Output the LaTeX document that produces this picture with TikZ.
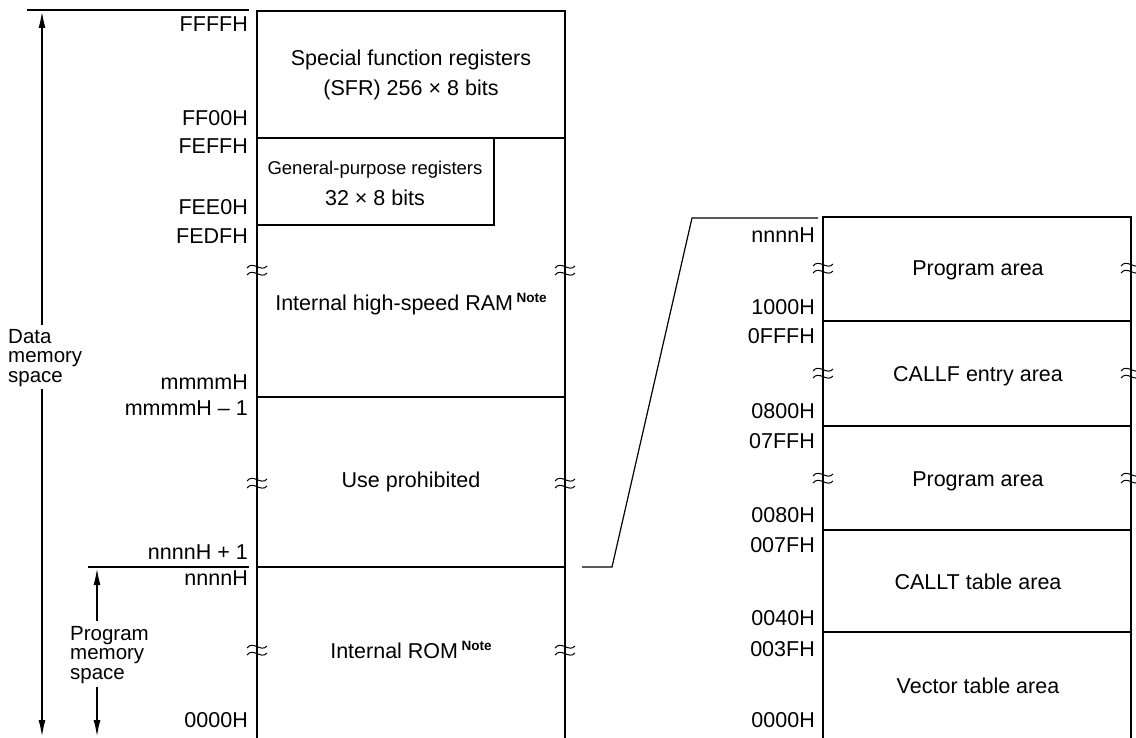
\documentclass[tikz,border=0pt]{standalone}
\usepackage{fontspec}
\setmainfont{Liberation Sans}
\usetikzlibrary{arrows.meta}
\newcommand\fs{\fontsize{21.5}{19}\selectfont}
\newcommand\sidefs{\fontsize{20.5}{19.5}\selectfont}
\newcommand\notemark{\,\raisebox{8pt}{\fontsize{13.5}{13.5}\selectfont\bfseries Note}}
\begin{document}
\begin{tikzpicture}[x=1pt,y=-1pt,
  boxline/.style={line width=2.2pt},
  divline/.style={line width=1.2pt},
  arr/.style={line width=1.1pt,-{Latex[length=16pt,width=7pt]}},
  lbl/.style={anchor=base east,inner sep=0pt,font=\fs},
  txt/.style={anchor=base,inner sep=0pt,font=\fs},
  side/.style={anchor=north west,inner sep=0pt,align=left,font=\sidefs},
  brk/.pic={
    \draw[line width=1pt] (-10,-2) .. controls (-4,-10) and (4,3) .. (10,-4);
    \draw[line width=1pt] (-10,5) .. controls (-4,-3) and (4,10) .. (10,3);
  }]
\useasboundingbox (0,0) rectangle (1136,738);

% ---------- left memory map ----------
\draw[boxline] (257,738) -- (257,11) -- (565,11) -- (565,738);
\draw[divline] (257,138) -- (565,138);
\draw[divline] (257,225) -- (494,225) -- (494,138);
\draw[divline] (257,397) -- (565,397);
\draw[divline] (257,567) -- (565,567);
\draw[divline] (27,10) -- (249,10);
\draw[divline] (88,567) -- (249,567);

\foreach \yy in {270,483,650}{
  \pic at (257,\yy) {brk};
  \pic at (565,\yy) {brk};
}

\node[lbl] (a1) at (248,32) {FFFFH};
\node[lbl] (a2) at (248,126) {FF00H};
\node[lbl] (a3) at (248,154) {FEFFH};
\node[lbl] (a4) at (248,215) {FEE0H};
\node[lbl] (a5) at (248,244) {FEDFH};
\node[lbl] (a6) at (248,389) {mmmmH};
\node[lbl] (a7) at (248,415) {mmmmH -- 1};
\node[lbl] (a8) at (248,559) {nnnnH + 1};
\node[lbl] (a9) at (248,585) {nnnnH};
\node[lbl] (a10) at (248,727) {0000H};

\node[txt] (sfr1) at (411,66) {Special function registers};
\node[txt] (sfr2) at (411,96) {(SFR) 256 × 8 bits};
\node[txt,font=\fontsize{18.5}{19}\selectfont] (gpr1) at (375,175) {General-purpose registers};
\node[txt] (gpr2) at (375,206) {32 × 8 bits};
\node[txt] (ram) at (411,311) {Internal high-speed RAM\notemark};
\node[txt] (prh) at (411,487) {Use prohibited};
\node[txt] (rom) at (411,658) {Internal ROM\notemark};

% data / program memory space arrows
\node[side] (data) at (8,329) {Data\\memory\\space};
\coordinate (dtop) at (42,12);
\coordinate (dbot) at (42,736);
\draw[arr] (data.north -| dtop) ++(0,-4) -- (dtop);
\draw[arr] (data.south -| dtop) ++(0,2) -- (dbot);

\node[side] (prog) at (70,626) {Program\\memory\\space};
\coordinate (ptop) at (97,569);
\coordinate (pbot) at (97,736);
\draw[arr] (prog.north -| ptop) ++(0,-5) -- (ptop);
\draw[arr] (prog.south -| ptop) ++(0,3) -- (pbot);

% ---------- link to expanded view ----------
\coordinate (k1) at (582,567);
\coordinate (k2) at (612,567);
\coordinate (k3) at (692,218);
\coordinate (k4) at (818,218);
\draw[divline] (k1) -- (k2) -- (k3) -- (k4);

% ---------- right memory map ----------
\draw[boxline] (823,738) -- (823,217) -- (1131,217) -- (1131,738);
\foreach \yy in {321,426,530,632}{
  \draw[divline] (823,\yy) -- (1131,\yy);
}
\foreach \yy in {268,373,478}{
  \pic at (823,\yy) {brk};
  \pic at (1131,\yy) {brk};
}

\node[lbl] (b1) at (815,243) {nnnnH};
\node[lbl] (b2) at (815,315) {1000H};
\node[lbl] (b3) at (815,344) {0FFFH};
\node[lbl] (b4) at (815,418) {0800H};
\node[lbl] (b5) at (815,448) {07FFH};
\node[lbl] (b6) at (815,522) {0080H};
\node[lbl] (b7) at (815,552) {007FH};
\node[lbl] (b8) at (815,625) {0040H};
\node[lbl] (b9) at (815,656) {003FH};
\node[lbl] (b10) at (815,727) {0000H};

\node[txt] (r1) at (978,276) {Program area};
\node[txt] (r2) at (978,381) {CALLF entry area};
\node[txt] (r3) at (978,486) {Program area};
\node[txt] (r4) at (978,589) {CALLT table area};
\node[txt] (r5) at (978,693) {Vector table area};
\end{tikzpicture}
\end{document}
